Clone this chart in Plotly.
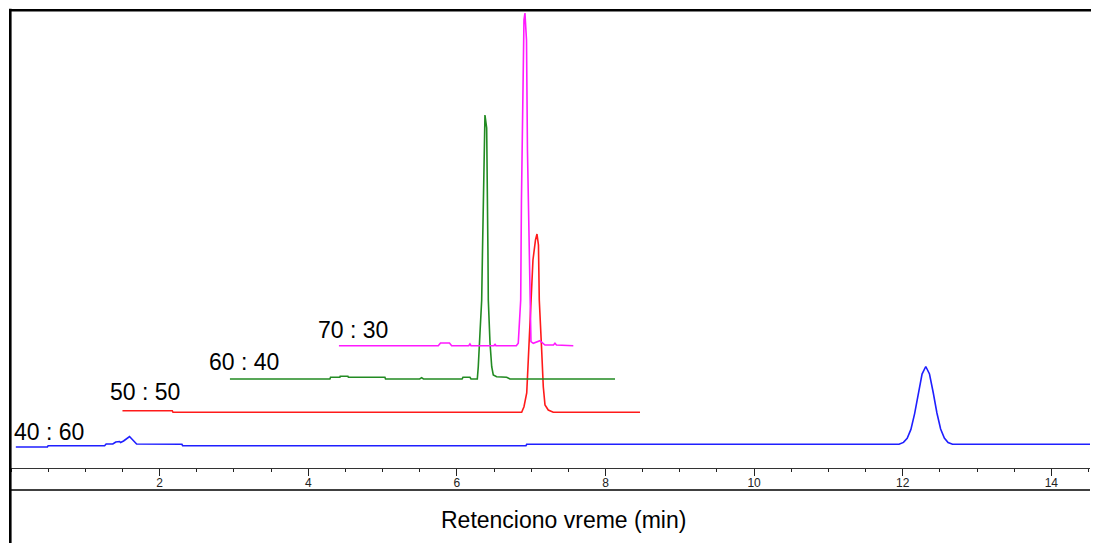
import plotly.graph_objects as go

# ---- data (retention time in min, detector signal in arbitrary units incl. stacking offset) ----
labels = ["40 : 60", "50 : 50", "60 : 40", "70 : 30"]

blue_t = [0.065, 0.49, 0.5, 1.26, 1.28, 1.37, 1.41, 1.46, 1.475, 1.515, 1.595, 1.69, 2.30, 2.31,
          6.93, 6.94, 11.95, 12.01, 12.06, 12.11, 12.16, 12.21, 12.26, 12.31, 12.36, 12.41,
          12.46, 12.51, 12.56, 12.61, 12.67, 12.75, 14.52]
blue_v = [21, 21, 22.3, 22.3, 24, 24, 26, 26.5, 25.5, 27, 31.5, 24, 23.7, 22.3,
          22.3, 23.7, 23.7, 25.6, 29.6, 38.6, 54.4, 75.2, 93.9, 101.5, 94, 75.5,
          55, 39, 30, 25.5, 23.7, 23.7, 23.7]

red_t = [1.50, 2.17, 2.18, 6.872, 6.903, 6.94, 6.961, 6.984, 6.997, 7.024, 7.058, 7.078,
         7.098, 7.109, 7.141, 7.163, 7.186, 7.23, 7.297, 8.464]
red_v = [57.3, 57.3, 55.7, 55.7, 61.3, 75, 108, 145, 168, 208, 228, 234,
         223, 168, 118, 81.3, 63, 58, 55.7, 55.7]

green_t = [2.946, 4.292, 4.30, 4.426, 4.43, 4.534, 4.54, 5.032, 5.04, 5.50, 5.526, 5.55,
           6.07, 6.082, 6.176, 6.19, 6.275, 6.288, 6.311, 6.334, 6.345, 6.365, 6.378, 6.401,
           6.412, 6.418, 6.423, 6.446, 6.469, 6.49, 6.535, 6.67, 6.715, 8.128]
green_v = [89, 89, 90.7, 90.7, 91.7, 91.7, 90.7, 90.7, 89, 89, 90.3, 89,
           89, 90.7, 90.7, 89, 89, 101.3, 135, 168, 218, 288, 353, 340,
           288, 218, 168, 125, 101.3, 93, 91.3, 90.7, 89, 89]

mag_t = [4.413, 5.75, 5.78, 5.90, 5.93, 6.16, 6.176, 6.19, 6.50, 6.512, 6.525, 6.80,
         6.826, 6.84, 6.859, 6.869, 6.89, 6.903, 6.916, 6.937, 6.95, 6.97, 6.984, 6.997,
         7.028, 7.118, 7.185, 7.30, 7.32, 7.34, 7.567]
mag_v = [122.3, 122.3, 125, 125, 122.3, 122.3, 124, 122.3, 122.3, 124, 122.3, 122.3,
         124.7, 141.3, 168, 268, 408, 448, 455, 428, 318, 218, 168, 126.3,
         124.7, 127.3, 123, 123, 124.7, 123, 122.3]

tick_vals = [2, 4, 6, 8, 10, 12, 14]
tick_text = ["2", "4", "6", "8", "10", "12", "14"]
x_title = "Retenciono vreme (min)"

# ---- styling / layout ----
series = [
    (blue_t, blue_v, "#1f1fff"),
    (red_t, red_v, "#ff1a1a"),
    (green_t, green_v, "#228b22"),
    (mag_t, mag_v, "#ff1aff"),
]
label_pos = [(0.517, 36.5), (1.798, 76.3), (3.135, 105.7), (4.598, 138)]

# the page body has an 8px margin: figure is sized/positioned to compensate
OFF = 8
W, H = 1099 - OFF, 543 - OFF
ml, mr, mt, mb = 11 - OFF, 9, 10 - OFF, 75
pw, ph = W - ml - mr, H - mt - mb

def px_x(page_x):
    return (page_x - OFF - ml) / pw

def px_y(page_y):
    return (ph + mt - (page_y - OFF)) / ph

fig = go.Figure()
for t, v, c in series:
    fig.add_trace(go.Scatter(x=t, y=v, mode="lines", line=dict(color=c, width=1.6),
                             hoverinfo="skip", showlegend=False))

for txt, (px, py) in zip(labels, label_pos):
    fig.add_annotation(x=px, y=py, xref="x", yref="y", text=txt, showarrow=False,
                       xanchor="center", yanchor="middle",
                       font=dict(family="Liberation Sans, Arial", size=23, color="black"))

fig.add_annotation(x=px_x(563), y=px_y(520), xref="paper", yref="paper",
                   text=x_title, showarrow=False, xanchor="center", yanchor="middle",
                   font=dict(family="Liberation Sans, Arial", size=23, color="black"))

# frame lines
fig.add_shape(type="line", xref="paper", yref="paper",
              x0=px_x(10.3), x1=px_x(10.3), y0=px_y(545), y1=px_y(8.8),
              line=dict(color="black", width=2.6))
fig.add_shape(type="line", xref="paper", yref="paper",
              x0=px_x(9), x1=px_x(1102), y0=px_y(10.3), y1=px_y(10.3),
              line=dict(color="black", width=2.6))
fig.add_shape(type="line", xref="paper", yref="paper",
              x0=px_x(10), x1=1.0, y0=px_y(490), y1=px_y(490),
              line=dict(color="black", width=1.7))

fig.update_layout(
    width=W, height=H,
    margin=dict(l=ml, r=mr, t=mt, b=mb),
    paper_bgcolor="white", plot_bgcolor="white",
    showlegend=False,
    xaxis=dict(range=[0, 14.52], showgrid=False, zeroline=False,
               showline=True, linecolor="#333333", linewidth=1,
               ticks="outside", ticklen=7, tickwidth=1, tickcolor="#222222",
               tickvals=tick_vals, ticktext=tick_text, ticklabelstandoff=-3,
               tickfont=dict(family="Liberation Sans, Arial", size=12, color="#222222"),
               minor=dict(dtick=0.5, tick0=0, ticks="outside", ticklen=3, tickwidth=1,
                          tickcolor="#222222", showgrid=False),
               fixedrange=True),
    yaxis=dict(range=[0, ph], visible=False, fixedrange=True),
)

fig.write_html("out.html")
